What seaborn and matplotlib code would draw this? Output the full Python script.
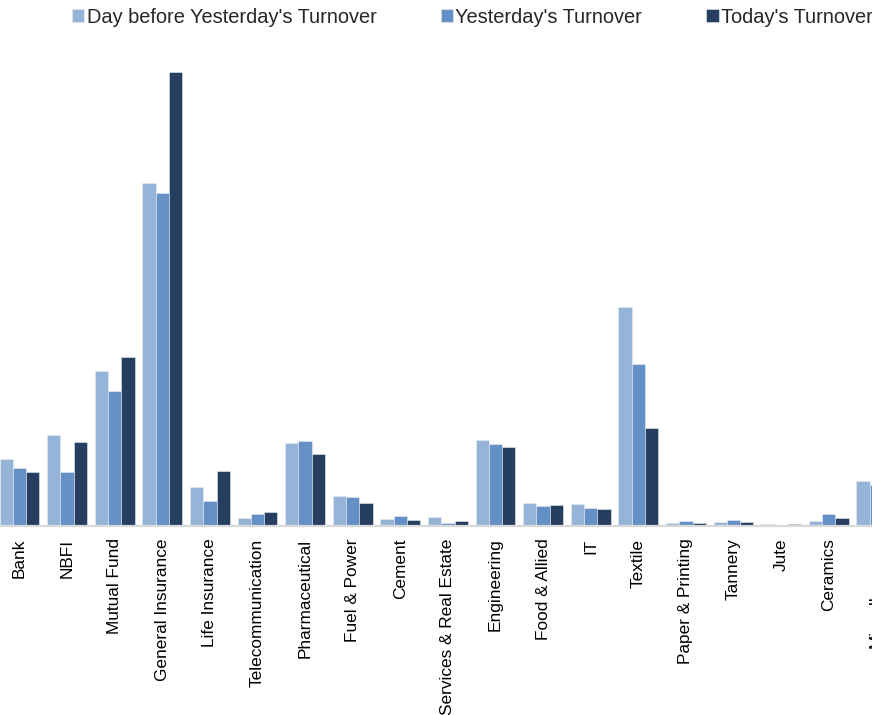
import matplotlib
matplotlib.use("Agg")
import matplotlib.pyplot as plt
import seaborn as sns
import pandas as pd

sectors = ["Bank", "NBFI", "Mutual Fund", "General Insurance", "Life Insurance",
           "Telecommunication", "Pharmaceutical", "Fuel & Power", "Cement",
           "Services & Real Estate", "Engineering", "Food & Allied", "IT", "Textile",
           "Paper & Printing", "Tannery", "Jute", "Ceramics", "Miscellaneous"]
series_names = ["Day before Yesterday's Turnover", "Yesterday's Turnover", "Today's Turnover"]
day_before = [167, 228, 388, 858, 98, 19, 208, 74, 18, 22, 216, 58, 55, 547, 7, 9, 4, 13, 113]
yesterday = [144, 134, 338, 833, 63, 29, 212, 72, 25, 8, 206, 49, 45, 404, 13, 14, 3, 29, 103]
today = [136, 209, 423, 1134, 138, 34, 180, 58, 15, 13, 198, 53, 43, 246, 7, 10, 6, 20, 95]
colors = ["#96B4D8", "#6490C6", "#263F60"]

rows = []
for name, vals in zip(series_names, [day_before, yesterday, today]):
    for s, v in zip(sectors, vals):
        rows.append({"Sector": s, "Period": name, "Turnover": v})
df = pd.DataFrame(rows)

sns.set_style("white")
plt.rcParams["font.family"] = ["Liberation Sans", "DejaVu Sans"]

fig = plt.figure(figsize=(8.72, 7.15), dpi=100)
ax = fig.add_axes([-4.3 / 872, 1 - 526 / 715, 904.4 / 872, 486 / 715])

sns.barplot(data=df, x="Sector", y="Turnover", hue="Period", order=sectors,
            hue_order=series_names, palette=colors, width=0.84, saturation=1,
            errorbar=None, ax=ax, edgecolor="#E6EDF6", linewidth=0.4)

handles, labels = ax.get_legend_handles_labels()
if ax.get_legend() is not None:
    ax.get_legend().remove()

ax.set_xlim(-0.5, 18.5)
ax.set_ylim(0, 1215)
ax.set_xlabel("")
ax.set_ylabel("")
ax.set_yticks([])
for side in ["top", "right", "left"]:
    ax.spines[side].set_visible(False)
ax.spines["bottom"].set_color("#D9D9D9")
ax.spines["bottom"].set_linewidth(1.6)
ax.tick_params(axis="x", length=0, pad=9.0)
ax.set_xticks(range(len(sectors)))
ax.set_xticklabels(sectors, rotation=90, fontsize=12.4, color="black", ha="center", va="top")

fig.legend(handles, labels, loc="upper left", bbox_to_anchor=(72 / 872, 1 - 8 / 715),
           ncol=3, frameon=False, fontsize=14.4, handlelength=0.62, handleheight=0.62,
           handletextpad=0.12, columnspacing=3.2, borderpad=0, borderaxespad=0)

fig.savefig("out.png", dpi=100)
